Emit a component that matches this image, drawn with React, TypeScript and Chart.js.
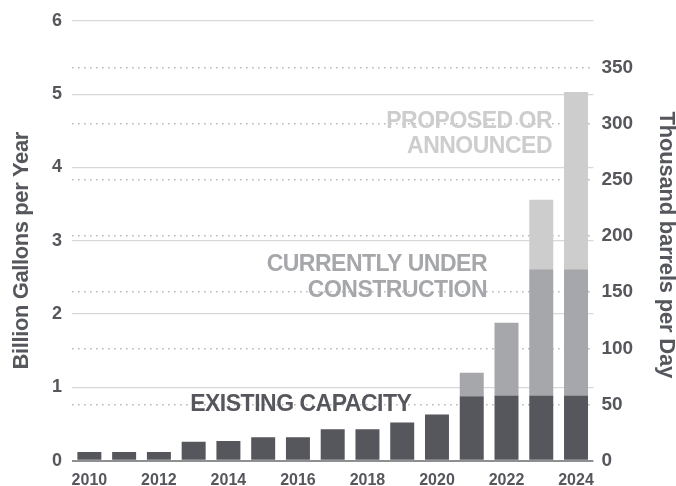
import React, { useEffect, useRef } from "react";
import { Chart, registerables } from "chart.js";

Chart.register(...registerables);

const years = ["2010","2011","2012","2013","2014","2015","2016","2017","2018","2019","2020","2021","2022","2023","2024"];
const existing = [0.12,0.12,0.12,0.26,0.27,0.32,0.32,0.43,0.43,0.52,0.63,0.88,0.89,0.89,0.89];
const underConstruction = [0,0,0,0,0,0,0,0,0,0,0,0.32,0.99,1.72,1.72];
const proposed = [0,0,0,0,0,0,0,0,0,0,0,0,0,0.95,2.42];
const leftTicks = [0,1,2,3,4,5,6];
const rightTicks = [0,50,100,150,200,250,300,350];
const seriesLabels = ["EXISTING CAPACITY", "CURRENTLY UNDER|CONSTRUCTION", "PROPOSED OR|ANNOUNCED"];
const leftTitle = "Billion Gallons per Year";
const rightTitle = "Thousand barrels per Day";
const KBD_PER_BGY = 65.23;

const DARK = "#55575c";
const MID = "#a6a7aa";
const LIGHT = "#cdcdcd";
const FONT = "'Liberation Sans', Arial, sans-serif";

export default function App() {
  const ref = useRef<HTMLCanvasElement>(null);
  useEffect(() => {
    const textPlugin = {
      id: "texts",
      afterDatasetsDraw(chart: any) {
        const ctx = chart.ctx as CanvasRenderingContext2D;
        const x = chart.scales.x;
        const y = chart.scales.y;
        const draw = (t: string, px: number, py: number, color: string, align: CanvasTextAlign, size: number, ls: string) => {
          ctx.save();
          ctx.font = `bold ${size}px ${FONT}`;
          (ctx as any).letterSpacing = ls;
          ctx.fillStyle = color;
          ctx.textAlign = align;
          ctx.textBaseline = "middle";
          ctx.fillText(t, px, py);
          ctx.restore();
        };
        draw(seriesLabels[0], x.getPixelForValue(2.9), y.getPixelForValue(0.76), DARK, "left", 23, "-0.5px");
        const uc = seriesLabels[1].split("|");
        draw(uc[0], x.getPixelForValue(11.44), y.getPixelForValue(2.68), MID, "right", 23, "-0.5px");
        draw(uc[1], x.getPixelForValue(11.44), y.getPixelForValue(2.32), MID, "right", 23, "-0.5px");
        const pr = seriesLabels[2].split("|");
        draw(pr[0], x.getPixelForValue(13.31), y.getPixelForValue(4.63), LIGHT, "right", 23, "-0.5px");
        draw(pr[1], x.getPixelForValue(13.31), y.getPixelForValue(4.28), LIGHT, "right", 23, "-0.5px");
        const ca = chart.chartArea;
        const mid = (ca.top + ca.bottom) / 2;
        const title = (t: string, cx: number, cy: number, rot: number, ls: string) => {
          ctx.save();
          ctx.font = `bold 22px ${FONT}`;
          (ctx as any).letterSpacing = ls;
          ctx.fillStyle = DARK;
          ctx.textAlign = "center";
          ctx.textBaseline = "middle";
          ctx.translate(cx, cy);
          ctx.rotate(rot);
          ctx.fillText(t, 0, 0);
          ctx.restore();
        };
        title(leftTitle, 22, mid + 10, -Math.PI / 2, "-0.4px");
        title(rightTitle, 666, mid + 4, Math.PI / 2, "-0.2px");
      },
    };

    const chart = new Chart(ref.current!, {
      type: "bar",
      data: {
        labels: years,
        datasets: [
          { label: "Existing", data: existing, backgroundColor: DARK, yAxisID: "y" },
          { label: "Under construction", data: underConstruction, backgroundColor: MID, yAxisID: "y" },
          { label: "Proposed", data: proposed, backgroundColor: LIGHT, yAxisID: "y" },
        ],
      },
      options: {
        animation: false,
        responsive: false,
        maintainAspectRatio: false,
        layout: { padding: { top: 17, left: 0, right: 0, bottom: 0 } },
        plugins: { legend: { display: false }, tooltip: { enabled: false } },
        datasets: { bar: { categoryPercentage: 1, barPercentage: 0.69 } },
        scales: {
          x: {
            stacked: true,
            grid: { display: false, drawTicks: false },
            border: { display: false },
            afterFit(s: any) { s.height = 25.3; },
            ticks: {
              autoSkip: false,
              maxRotation: 0,
              padding: 10,
              color: DARK,
              font: { family: FONT, weight: "bold", size: 16 },
              callback: (_v: any, i: number) => (i % 2 === 0 ? years[i] : ""),
            },
          },
          y: {
            stacked: true,
            position: "left",
            min: 0,
            max: 6,
            afterFit(s: any) { s.width = 72; },
            afterBuildTicks(s: any) { s.ticks = leftTicks.map((v) => ({ value: v })); },
            border: { display: false },
            grid: {
              drawTicks: false,
              color: (c: any) => (c.tick && c.tick.value === 0 ? "#8e8f92" : "#d8d8d8"),
              lineWidth: (c: any) => (c.tick && c.tick.value === 0 ? 2 : 1.2),
            },
            ticks: {
              padding: 10,
              color: DARK,
              font: { family: FONT, weight: "bold", size: 18 },
            },
          },
          y2: {
            position: "right",
            min: 0,
            max: 6 * KBD_PER_BGY,
            afterFit(s: any) { s.width = 82.6; },
            afterBuildTicks(s: any) { s.ticks = rightTicks.map((v) => ({ value: v })); },
            border: { display: false, dash: [1.6, 4.4] },
            grid: {
              drawTicks: false,
              color: (c: any) => (c.tick && c.tick.value === 0 ? "rgba(0,0,0,0)" : "#b9b9b9"),
              lineWidth: 1.6,
            },
            ticks: {
              padding: 8,
              color: DARK,
              font: { family: FONT, weight: "bold", size: 19 },
            },
          },
        },
      },
      plugins: [textPlugin],
    });
    return () => chart.destroy();
  }, []);
  return (
    <div style={{ position: "fixed", left: 0, top: 0, width: 676, height: 486, background: "#fff" }}>
      <canvas ref={ref} width={676} height={486} style={{ width: 676, height: 486 }} />
    </div>
  );
}
